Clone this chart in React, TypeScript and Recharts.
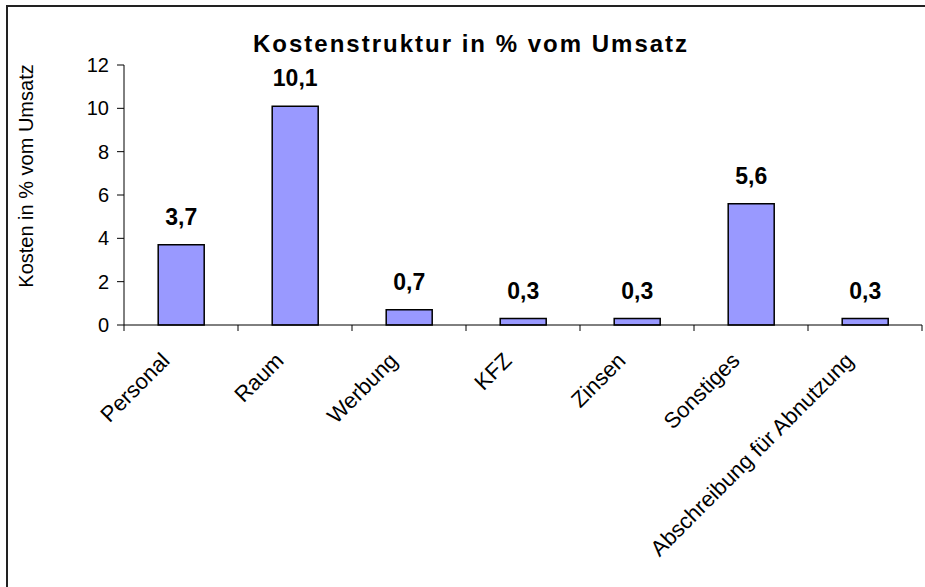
import React from 'react';
import { BarChart, Bar, XAxis, YAxis, LabelList } from 'recharts';

// Kostenstruktur in % vom Umsatz
const categories = ['Personal', 'Raum', 'Werbung', 'KFZ', 'Zinsen', 'Sonstiges', 'Abschreibung für Abnutzung'];
const values = [3.7, 10.1, 0.7, 0.3, 0.3, 5.6, 0.3];
const yTicks = [0, 2, 4, 6, 8, 10, 12];

const data = categories.map((name, i) => ({ name, value: values[i] }));

const FONT = '"Liberation Sans", Arial, sans-serif';

// category ticks sit on the boundaries between bars, labels turned 45°
const CategoryTick = (props: any) => {
  const { x, y, payload, index } = props;
  const half = payload && payload.offset ? payload.offset : 57;
  const last = index === categories.length - 1;
  const ax = x - 10;
  const ay = y + 37;
  return (
    <g>
      <line x1={x - half} y1={y} x2={x - half} y2={y + 6} stroke="#000" />
      {last && <line x1={x + half} y1={y} x2={x + half} y2={y + 6} stroke="#000" />}
      <text
        x={ax}
        y={ay}
        textAnchor="end"
        transform={`rotate(-45, ${ax}, ${ay})`}
        fontSize={22}
        fontFamily={FONT}
        fill="#000"
      >
        {payload.value}
      </text>
    </g>
  );
};

const formatValue = (v: any) => String(v).replace('.', ',');

export default function App() {
  return (
    <div style={{ position: 'absolute', left: 0, top: 0, width: 925, height: 587, overflow: 'hidden', background: '#fff' }}>
      <div style={{ position: 'absolute', left: 6, top: 5, width: 940, height: 620, border: '2px solid #222', boxSizing: 'border-box' }} />
      <div style={{ position: 'absolute', left: 253, top: 30, whiteSpace: 'nowrap', fontFamily: FONT, fontWeight: 'bold', fontSize: 24, letterSpacing: 2, lineHeight: '28px' }}>
        Kostenstruktur in % vom Umsatz
      </div>
      <div style={{ position: 'absolute', left: 26, top: 176, width: 0, height: 0 }}>
        <div style={{ position: 'absolute', transform: 'translate(-50%, -50%) rotate(-90deg)', whiteSpace: 'nowrap', fontFamily: FONT, fontSize: 20 }}>
          Kosten in % vom Umsatz
        </div>
      </div>
      <BarChart
        width={925}
        height={587}
        data={data}
        margin={{ top: 65, right: 3, left: 0, bottom: 0 }}
        barCategoryGap="30%"
        style={{ position: 'absolute', left: 0, top: 0 }}
      >
        <XAxis
          dataKey="name"
          interval={0}
          height={262}
          tickLine={false}
          tickSize={0}
          tickMargin={0}
          axisLine={{ stroke: '#000' }}
          tick={<CategoryTick />}
        />
        <YAxis
          width={124}
          domain={[0, 12]}
          ticks={yTicks}
          tickSize={7}
          tickMargin={8}
          axisLine={{ stroke: '#000' }}
          tickLine={{ stroke: '#000' }}
          tick={{ fill: '#000', fontSize: 20, fontFamily: FONT }}
        />
        <Bar dataKey="value" fill="#9999FF" stroke="#000" strokeWidth={1.5} isAnimationActive={false}>
          <LabelList
            dataKey="value"
            position="top"
            offset={20}
            formatter={formatValue}
            style={{ fill: '#000', fontSize: 23, fontWeight: 'bold', fontFamily: FONT }}
          />
        </Bar>
      </BarChart>
    </div>
  );
}
